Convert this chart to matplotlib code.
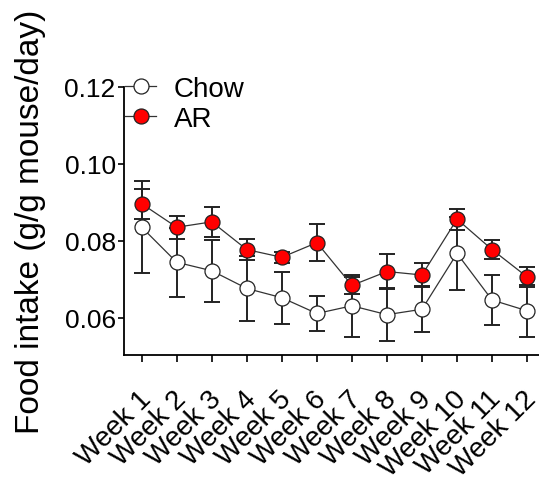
import matplotlib
matplotlib.use("Agg")
import matplotlib.pyplot as plt
import matplotlib.transforms as mtransforms
import numpy as np

weeks = ["Week 1", "Week 2", "Week 3", "Week 4", "Week 5", "Week 6",
         "Week 7", "Week 8", "Week 9", "Week 10", "Week 11", "Week 12"]
chow_mean = [0.0835, 0.0744, 0.0722, 0.0676, 0.0652, 0.0611,
             0.0631, 0.0608, 0.0622, 0.0767, 0.0646, 0.0618]
chow_err = [0.0120, 0.0089, 0.0080, 0.0085, 0.0068, 0.0045,
            0.0080, 0.0069, 0.0060, 0.0095, 0.0065, 0.0067]
ar_mean = [0.0896, 0.0835, 0.0849, 0.0777, 0.0757, 0.0795,
           0.0684, 0.0720, 0.0711, 0.0856, 0.0777, 0.0706]
ar_err = [0.0039, 0.0030, 0.0039, 0.0028, 0.0015, 0.0048,
          0.0023, 0.0045, 0.0030, 0.0027, 0.0024, 0.0027]

plt.rcParams['font.family'] = ['Liberation Sans', 'DejaVu Sans']

fig = plt.figure(figsize=(5.39, 4.81), dpi=100)
ax = fig.add_axes([124/539, (481-355.7)/481, (539-124)/539, (355.7-87.7)/481])

x = np.arange(1, len(weeks) + 1)
ms = 10.8
for mean, err, face, label in [(chow_mean, chow_err, 'white', 'Chow'),
                                (ar_mean, ar_err, '#FF0000', 'AR')]:
    ax.errorbar(x, mean, yerr=err, fmt='none', ecolor='#222222',
                elinewidth=1.4, capsize=6, capthick=1.4, zorder=2)
    ax.plot(x, mean, '-', color='#333333', lw=0.9, marker='o', ms=ms,
            mfc=face, mec='#222222', mew=0.9, label=label, zorder=3)

ax.set_xlim(0.495, 12.34)
ax.set_ylim(0.0504, 0.12)
ax.set_yticks([0.06, 0.08, 0.10, 0.12])
ax.set_yticklabels(["0.06", "0.08", "0.10", "0.12"], fontsize=19)
ax.set_xticks(x)
ax.set_xticklabels(weeks, fontsize=20, rotation=45, ha='right', va='top',
                   rotation_mode='anchor')
ax.tick_params(axis='x', length=5, width=1.2, pad=17)
ax.tick_params(axis='y', length=4, width=1.2, pad=2)
offset = mtransforms.ScaledTranslation(-4/100, 0, fig.dpi_scale_trans)
for lbl in ax.get_xticklabels():
    lbl.set_transform(lbl.get_transform() + offset)
for s in ['top', 'right']:
    ax.spines[s].set_visible(False)
for s in ['left', 'bottom']:
    ax.spines[s].set_linewidth(1.3)

ax.set_ylabel("Food intake (g/g mouse/day)", fontsize=24, labelpad=13)

leg = ax.legend(loc='upper left', bbox_to_anchor=(128/539 - 0.005, 1 - 77/481),
                bbox_transform=fig.transFigure, frameon=False, fontsize=20,
                handlelength=1.1, handletextpad=0.65, labelspacing=0.15,
                borderpad=0, borderaxespad=0)

fig.savefig("out.png", dpi=100)
